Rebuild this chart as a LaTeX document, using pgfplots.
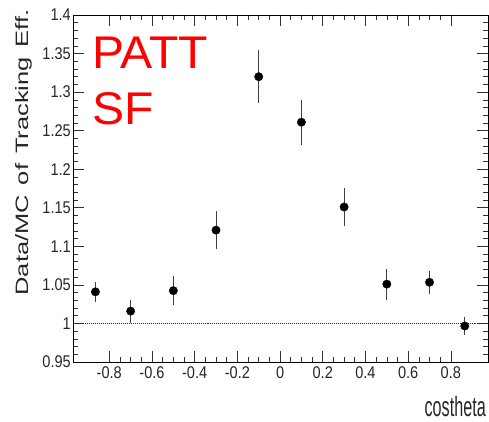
\documentclass[border=0pt]{standalone}
\usepackage{pgfplots}
\pgfplotsset{compat=1.18}
\usepackage{fontspec}
\setmainfont{Liberation Sans}
\begin{document}
\begin{tikzpicture}
\useasboundingbox (-73bp,-60bp) rectangle (416bp,362bp);
\begin{axis}[
  scale only axis,
  width=415bp, height=347bp,
  xmin=-0.97, xmax=0.974,
  ymin=0.95, ymax=1.4,
  xtick={-0.8,-0.6,-0.4,-0.2,0,0.2,0.4,0.6,0.8},
  ytick={0.95,1,1.05,1.1,1.15,1.2,1.25,1.3,1.35,1.4},
  minor x tick num=3,
  minor y tick num=4,
  tick align=inside,
  xtick pos=both, ytick pos=both,
  major tick length=11bp,
  minor tick length=5.5bp,
  tick style={black!80, line width=0.6pt},
  axis line style={black, line width=0.9pt},
  /pgf/number format/assume math mode=true,
  tick label style={font=\fontsize{17}{17}\selectfont, text=black!85, xscale=0.86},
  yticklabel style={xshift=1bp},
  xticklabel style={yshift=-1bp},
  xlabel={\scalebox{0.58}[1]{\fontsize{28}{28}\selectfont costheta}},
  xlabel style={at={(axis description cs:1,0)}, anchor=base east, yshift=-54bp, xshift=-2bp, inner sep=0pt, text=black!85},
  ylabel={\scalebox{1.42}[1]{\fontsize{18}{18}\selectfont Data/MC\hspace{7bp}of\hspace{7bp}Tracking\hspace{7bp}Eff.}},
  ylabel style={at={(axis description cs:-0.108,0.604)}, anchor=base, rotate=0, inner sep=0pt, text=black!85},
  clip=false,
]
\addplot[black!85, line width=0.6pt, dash pattern=on 1pt off 1pt] coordinates {(-0.97,1) (0.974,1)};
\addplot[only marks, mark=*, mark size=4.2bp, black,
  error bars/.cd, y dir=both, y explicit,
  error mark=none,
  error bar style={black!75, line width=0.8pt}]
  coordinates {
  (-0.865,1.041) +- (0,0.013)
  (-0.70,1.016) +- (0,0.015)
  (-0.50,1.0425) +- (0,0.019)
  (-0.30,1.121) +- (0,0.025)
  (-0.10,1.320) +- (0,0.034)
  (0.10,1.261) +- (0,0.029)
  (0.30,1.151) +- (0,0.024)
  (0.50,1.051) +- (0,0.020)
  (0.70,1.0534) +- (0,0.015)
  (0.865,0.9967) +- (0,0.012)
  };
\node[anchor=base west, inner sep=0pt, xscale=1.05, text={rgb,255:red,255;green,0;blue,0}, font=\fontsize{46}{46}\selectfont] at (axis description cs:0.0453,0.847) {PATT};
\node[anchor=base west, inner sep=0pt, xscale=1.05, text={rgb,255:red,255;green,0;blue,0}, font=\fontsize{46}{46}\selectfont] at (axis description cs:0.0453,0.683) {SF};
\end{axis}
\end{tikzpicture}
\end{document}
